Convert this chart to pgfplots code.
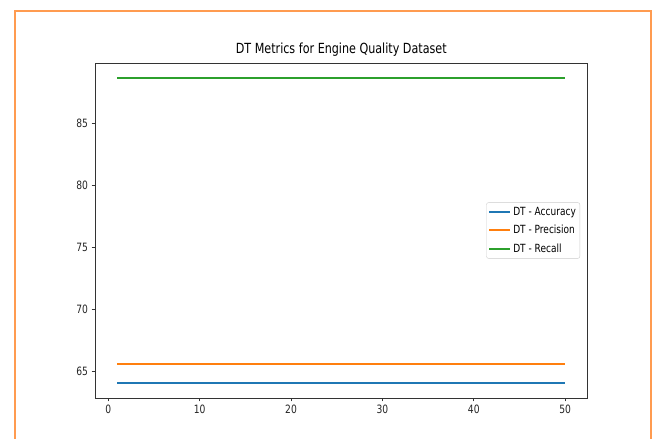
\documentclass[border=0pt]{standalone}
\usepackage{fontspec}
\setmainfont{DejaVu Sans}[FakeStretch=0.8]
\usepackage{pgfplots}
\pgfplotsset{compat=1.18}
\definecolor{mplblue}{HTML}{1F77B4}
\definecolor{mplorange}{HTML}{FF7F0E}
\definecolor{mplgreen}{HTML}{2CA02C}
\definecolor{frameorange}{RGB}{255,155,80}
\begin{document}
\begin{tikzpicture}[x=1bp,y=1bp]
\clip (0,0) rectangle (655,439);
\fill[white] (0,0) rectangle (655,439);
\draw[frameorange, line width=1.6bp] (15,-20) -- (15,428) -- (651,428) -- (651,-20);
\begin{axis}[
  at={(95bp,41bp)}, anchor=south west,
  scale only axis, width=492.5bp, height=335bp,
  xmin=-1.45, xmax=52.45, ymin=62.88, ymax=89.85,
  xtick={0,10,20,30,40,50},
  ytick={65,70,75,80,85},
  tick align=outside, major tick length=3.5bp,
  tick style={black!80, line width=0.8bp},
  axis line style={black!80, line width=0.9bp},
  xtick pos=bottom, ytick pos=left,
  /pgf/number format/assume math mode=true,
  ticklabel style={font=\fontsize{11.5}{13}\selectfont, text=black!85},
  title={DT Metrics for Engine Quality Dataset},
  title style={font=\fontsize{14}{16}\selectfont, yshift=-3bp},
  legend style={at={(1,0.5)}, anchor=east, xshift=-7.5bp,
    draw=black!20, rounded corners=2bp, fill=white,
    font=\fontsize{11.3}{13}\selectfont, inner xsep=2bp, inner ysep=2.5bp,
    row sep=4.5bp},
  legend cell align=left,
  legend image code/.code={\draw[#1] (0bp,0bp) -- (21bp,0bp);},
]
\addplot[mplblue, line width=1.8bp] coordinates {(1,64.1) (50,64.1)};
\addlegendentry{DT - Accuracy}
\addplot[mplorange, line width=1.8bp] coordinates {(1,65.6) (50,65.6)};
\addlegendentry{DT - Precision}
\addplot[mplgreen, line width=1.8bp] coordinates {(1,88.65) (50,88.65)};
\addlegendentry{DT - Recall}
\end{axis}
\end{tikzpicture}
\end{document}
